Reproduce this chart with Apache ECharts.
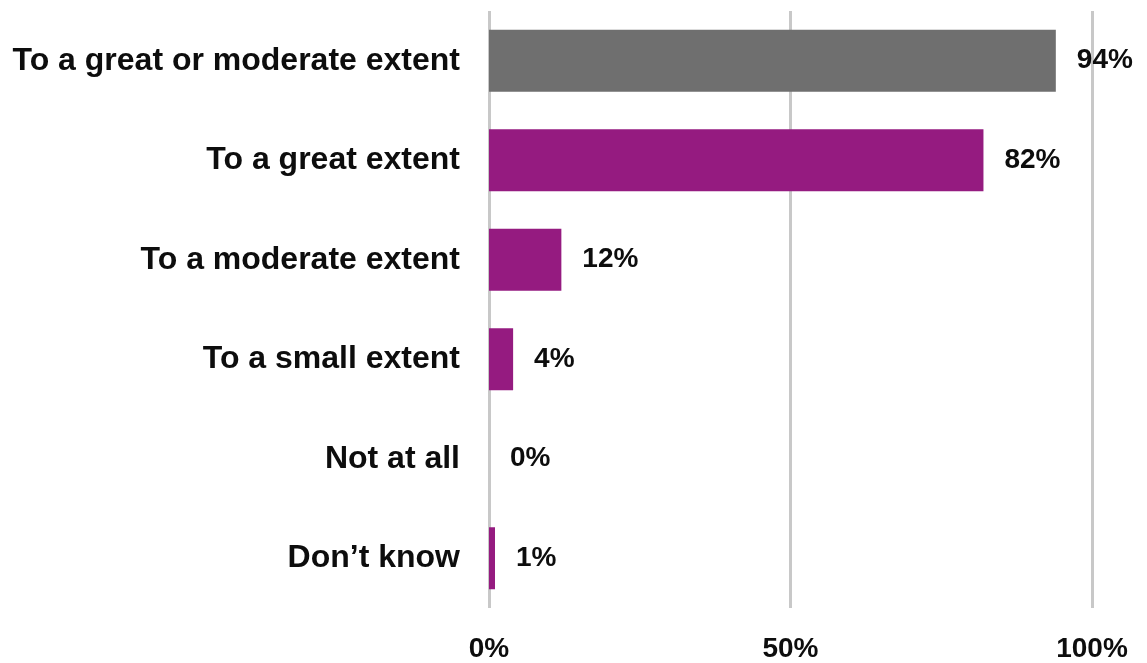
<!DOCTYPE html>
<html>
<head>
<meta charset="utf-8">
<script src="https://cdn.jsdelivr.net/npm/echarts@6/dist/echarts.min.js"></script>
<style>
  html, body { margin: 0; padding: 0; background: #fff; }
  #chart { width: 1147px; height: 663px; }
</style>
</head>
<body>
<div id="chart"></div>
<script>
// categories top to bottom
const categories = [
    "To a great or moderate extent",
    "To a great extent",
    "To a moderate extent",
    "To a small extent",
    "Not at all",
    "Don\u2019t know",
];
const shares = [94, 82, 12, 4, 0, 1];

const FONT = "'Liberation Sans', Arial, sans-serif";

const chart = echarts.init(document.getElementById("chart"));

const option = {
    animation: false,
    backgroundColor: "#ffffff",
    grid: {
        left: 489,
        right: 55,
        top: 11,
        bottom: 52,
    },
    xAxis: {
        type: "value",
        min: 0,
        max: 100,
        interval: 50,
        axisLine: { show: false },
        axisTick: { show: false },
        axisLabel: {
            formatter: "{value}%",
            color: "#0d0d0d",
            fontFamily: FONT,
            fontWeight: "bold",
            fontSize: 28,
            margin: 27,
        },
        splitLine: {
            show: true,
            lineStyle: { color: "#c8c8c8", width: 3 },
        },
    },
    yAxis: {
        type: "category",
        inverse: true,
        data: categories,
        axisLine: { show: false },
        axisTick: { show: false },
        axisLabel: {
            color: "#0d0d0d",
            fontFamily: FONT,
            fontWeight: "bold",
            fontSize: 32,
            margin: 29,
        },
    },
    series: [
        {
            type: "bar",
            data: shares,
            barWidth: 62,
            itemStyle: {
                // first bar is the combined total, drawn in grey
                color: (p) => (p.dataIndex === 0 ? "#6f6f6f" : "#951b80"),
            },
            label: {
                show: true,
                position: "right",
                distance: 21,
                formatter: "{c}%",
                color: "#0d0d0d",
                fontFamily: FONT,
                fontWeight: "bold",
                fontSize: 28,
            },
        },
    ],
};

chart.setOption(option);
</script>
</body>
</html>
